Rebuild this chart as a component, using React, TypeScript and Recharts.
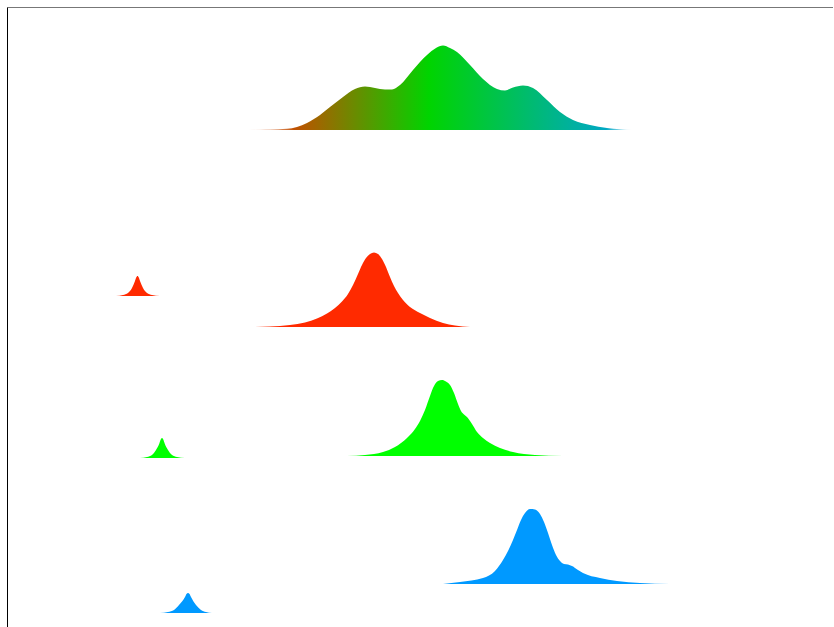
import React from "react";
import { ComposedChart, Area, XAxis, YAxis } from "recharts";

// x positions (axis units) and density heights for each ridge; base = ridge baseline
const topX = [24.8, 26.0, 27.0, 28.7, 29.7, 30.7, 32.0, 33.0, 34.3, 35.5, 36.5, 37.5, 38.5, 39.2, 40.0, 41.3, 42.7, 43.6, 44.3, 45.0, 45.7, 47.0, 48.3, 49.7, 50.5, 51.3, 52.3, 53.3, 54.7, 56.0, 57.3, 59.0, 60.7, 62.0, 63.3];
const topH = [0, 0.02, 0.04, 0.12, 0.3, 0.7, 1.5, 2.3, 3.3, 4.1, 4.35, 4.2, 4.05, 4.05, 4.5, 6.0, 7.5, 8.2, 8.45, 8.2, 7.8, 6.5, 5.1, 4.1, 3.95, 4.25, 4.45, 4.2, 3.0, 1.8, 1.0, 0.5, 0.2, 0.07, 0];
const topBase = 49.7;

const redSmallX = [11.6, 12.3, 12.8, 13.2, 13.5, 13.62, 13.75, 13.88, 14.0, 14.3, 14.7, 15.2, 16.0];
const redSmallH = [0, 0.1, 0.3, 0.8, 1.5, 1.85, 2.0, 1.85, 1.5, 0.8, 0.3, 0.1, 0];
const redSmallBase = 33.1;

const redBigX = [25.5, 27.0, 29.0, 30.5, 31.7, 32.7, 33.5, 34.2, 34.8, 35.3, 35.8, 36.2, 36.6, 37.0, 37.4, 37.8, 38.2, 38.6, 39.0, 39.4, 39.8, 40.3, 41.0, 42.0, 43.0, 44.3, 45.5, 47.0];
const redBigH = [0, 0.05, 0.2, 0.45, 0.85, 1.35, 1.9, 2.55, 3.3, 4.2, 5.3, 6.2, 6.9, 7.3, 7.45, 7.3, 6.8, 6.0, 5.0, 4.1, 3.4, 2.7, 2.0, 1.4, 0.9, 0.4, 0.15, 0];
const redBigBase = 30.0;

const greenSmallX = [14.0, 14.7, 15.2, 15.6, 15.95, 16.07, 16.2, 16.33, 16.45, 16.8, 17.2, 17.7, 18.5];
const greenSmallH = [0, 0.1, 0.3, 0.8, 1.5, 1.85, 2.0, 1.85, 1.5, 0.8, 0.3, 0.1, 0];
const greenSmallBase = 16.9;

const greenBigX = [34.7, 36.5, 38.3, 39.5, 40.7, 41.5, 42.0, 42.5, 43.0, 43.4, 43.8, 44.2, 44.6, 45.0, 45.4, 45.8, 46.1, 46.4, 46.7, 47.2, 47.7, 48.3, 49.0, 50.0, 51.3, 53.5, 56.3];
const greenBigH = [0, 0.1, 0.4, 0.9, 1.8, 2.7, 3.5, 4.6, 6.0, 7.0, 7.5, 7.6, 7.45, 7.1, 6.3, 5.2, 4.5, 4.15, 3.9, 3.2, 2.4, 1.8, 1.3, 0.8, 0.4, 0.1, 0];
const greenBigBase = 17.1;

const blueSmallX = [16.0, 16.8, 17.4, 17.9, 18.5, 18.65, 18.8, 18.95, 19.1, 19.6, 20.1, 20.6, 21.2];
const blueSmallH = [0, 0.1, 0.3, 0.8, 1.6, 1.9, 2.0, 1.9, 1.6, 0.8, 0.3, 0.1, 0];
const blueSmallBase = 1.4;

const blueBigX = [44.3, 46.0, 48.3, 49.5, 50.3, 50.8, 51.3, 51.7, 52.1, 52.5, 53.0, 53.5, 54.0, 54.4, 54.8, 55.2, 55.6, 56.0, 56.4, 56.8, 57.2, 57.8, 58.3, 60.0, 61.7, 64.0, 67.0];
const blueBigH = [0, 0.2, 0.6, 1.3, 2.4, 3.3, 4.4, 5.4, 6.4, 7.1, 7.5, 7.45, 7.0, 6.2, 5.1, 3.9, 2.9, 2.3, 2.0, 1.95, 1.8, 1.4, 1.1, 0.6, 0.3, 0.1, 0];
const blueBigBase = 4.3;

const build = (xs: number[], hs: number[], base: number) =>
  xs.map((x, i) => ({ x, y: base + hs[i] }));

const ridges = [
  { key: "top", data: build(topX, topH, topBase), base: topBase, fill: "url(#topGrad)" },
  { key: "redS", data: build(redSmallX, redSmallH, redSmallBase), base: redSmallBase, fill: "#ff2a00" },
  { key: "redB", data: build(redBigX, redBigH, redBigBase), base: redBigBase, fill: "#ff2a00" },
  { key: "greenS", data: build(greenSmallX, greenSmallH, greenSmallBase), base: greenSmallBase, fill: "#00ff00" },
  { key: "greenB", data: build(greenBigX, greenBigH, greenBigBase), base: greenBigBase, fill: "#00ff00" },
  { key: "blueS", data: build(blueSmallX, blueSmallH, blueSmallBase), base: blueSmallBase, fill: "#0099ff" },
  { key: "blueB", data: build(blueBigX, blueBigH, blueBigBase), base: blueBigBase, fill: "#0099ff" },
];

export default function App() {
  return (
    <div style={{ position: "absolute", left: 0, top: 0 }}>
      <ComposedChart
        width={834}
        height={627}
        margin={{ top: 6.5, right: 1, bottom: 0, left: 6.5 }}
      >
        <defs>
          <linearGradient id="topGrad" x1="0" y1="0" x2="1" y2="0">
            <stop offset="0" stopColor="#e06030" stopOpacity={0} />
            <stop offset="0.12" stopColor="#c05000" stopOpacity={1} />
            <stop offset="0.47" stopColor="#00d400" stopOpacity={1} />
            <stop offset="0.93" stopColor="#00a8c4" stopOpacity={1} />
            <stop offset="1" stopColor="#00a0d0" stopOpacity={0} />
          </linearGradient>
        </defs>
        <XAxis
          dataKey="x"
          type="number"
          orientation="top"
          domain={[0.75, 83.3]}
          allowDataOverflow
          height={1}
          tick={false}
          tickLine={false}
          axisLine={{ stroke: "#777777" }}
        />
        <YAxis
          type="number"
          domain={[0, 61.95]}
          allowDataOverflow
          width={1}
          tick={false}
          tickLine={false}
          axisLine={{ stroke: "#000000" }}
        />
        {ridges.map((r) => (
          <Area
            key={r.key}
            data={r.data}
            dataKey="y"
            type="monotone"
            baseValue={r.base}
            fill={r.fill}
            fillOpacity={1}
            stroke="none"
            isAnimationActive={false}
          />
        ))}
      </ComposedChart>
    </div>
  );
}
